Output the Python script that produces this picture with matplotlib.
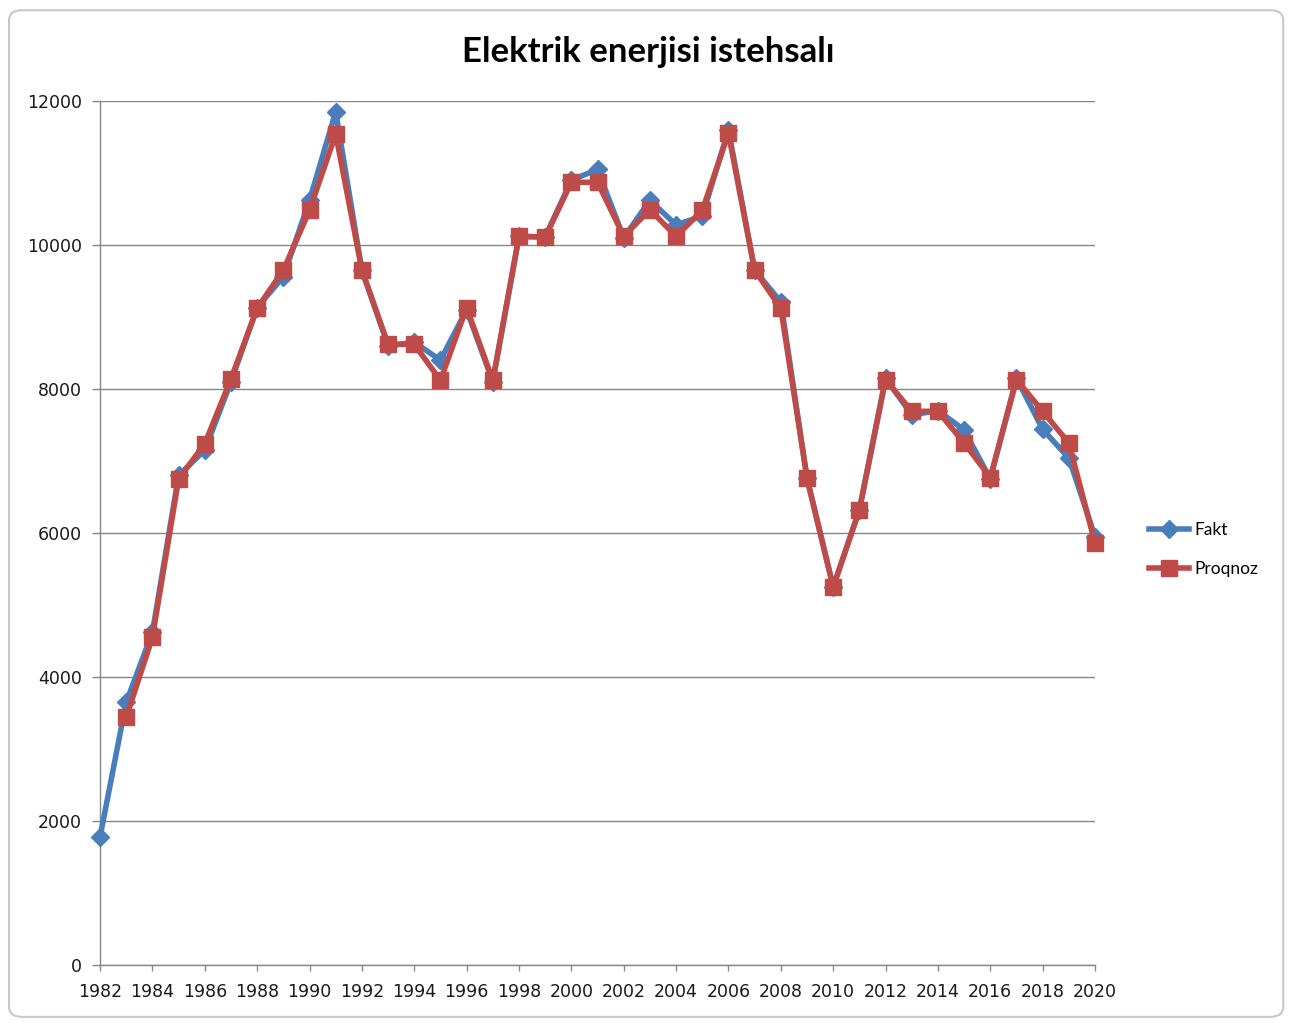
import matplotlib
matplotlib.use("Agg")
import matplotlib.pyplot as plt
from matplotlib.patches import FancyBboxPatch

years = list(range(1982, 2021))

fakt = [1780, 3650, 4620, 6800, 7150, 8100, 9130, 9560, 10620, 11850,
        9650, 8600, 8650, 8400, 9100, 8100, 10120, 10110, 10900, 11050,
        10100, 10620, 10280, 10400, 11600, 9650, 9210, 6760, 5250, 6320,
        8150, 7640, 7700, 7430, 6750, 8150, 7440, 7040, 5950]

proqnoz = [None, 3440, 4550, 6750, 7240, 8140, 9120, 9650, 10480, 11540,
           9650, 8620, 8620, 8120, 9130, 8120, 10120, 10110, 10870, 10870,
           10120, 10490, 10120, 10480, 11550, 9650, 9120, 6760, 5250, 6320,
           8130, 7690, 7690, 7250, 6770, 8130, 7690, 7250, 5860]

y_ticks = [0, 2000, 4000, 6000, 8000, 10000, 12000]
x_ticks = list(range(1982, 2021, 2))

BLUE = "#4A7EBB"
RED = "#BE4B48"
GRID = "#868686"

plt.rcParams["font.family"] = ["Lato", "DejaVu Sans"]

fig = plt.figure(figsize=(12.91, 10.23), dpi=100, facecolor="white")

# chart frame like the spreadsheet chart box
frame = FancyBboxPatch((0.007, 0.006), 0.987, 0.984,
                       boxstyle="round,pad=0,rounding_size=0.01",
                       transform=fig.transFigure, facecolor="white",
                       edgecolor="#C8C8C8", linewidth=1.5, zorder=-10)
fig.patches.append(frame)

ax = fig.add_axes([0.0775, 0.0567, 0.7707, 0.8446])
ax.set_facecolor("none")
ax.set_zorder(2)

fx = [y for y, v in zip(years, fakt) if v is not None]
fv = [v for v in fakt if v is not None]
px = [y for y, v in zip(years, proqnoz) if v is not None]
pv = [v for v in proqnoz if v is not None]

ax.plot(fx, fv, color=BLUE, linewidth=4, marker="D", markersize=9,
        markerfacecolor=BLUE, markeredgecolor=BLUE, label="Fakt",
        clip_on=False, zorder=3)
ax.plot(px, pv, color=RED, linewidth=4, marker="s", markersize=11,
        markerfacecolor=RED, markeredgecolor=RED, label="Proqnoz",
        clip_on=False, zorder=4)

ax.set_xlim(1982, 2020)
ax.set_ylim(0, 12000)
ax.set_xticks(x_ticks)
ax.set_xticklabels([str(t) for t in x_ticks], family="DejaVu Sans")
ax.set_yticks(y_ticks)
ax.set_yticklabels([str(t) for t in y_ticks], family="DejaVu Sans")

ax.grid(axis="y", color=GRID, linewidth=1.0)
ax.set_axisbelow(True)
for side in ["top", "right"]:
    ax.spines[side].set_visible(False)
for side in ["left", "bottom"]:
    ax.spines[side].set_color(GRID)
    ax.spines[side].set_linewidth(1.0)
ax.tick_params(axis="both", colors=GRID, width=1.0,
               labelcolor="#1a1a1a", labelsize=12.5)
ax.tick_params(axis="y", length=6, pad=7)
ax.tick_params(axis="x", length=4, pad=9)

fig.text(0.502, 0.949, "Elektrik enerjisi istehsalı", ha="center",
         va="center", fontsize=25, fontweight="bold")

fig.legend(loc="center left", bbox_to_anchor=(0.878, 0.463), frameon=False,
           fontsize=12.5, handlelength=2.3, labelspacing=1.3, handletextpad=0.3)

fig.savefig("out.png", dpi=100)
